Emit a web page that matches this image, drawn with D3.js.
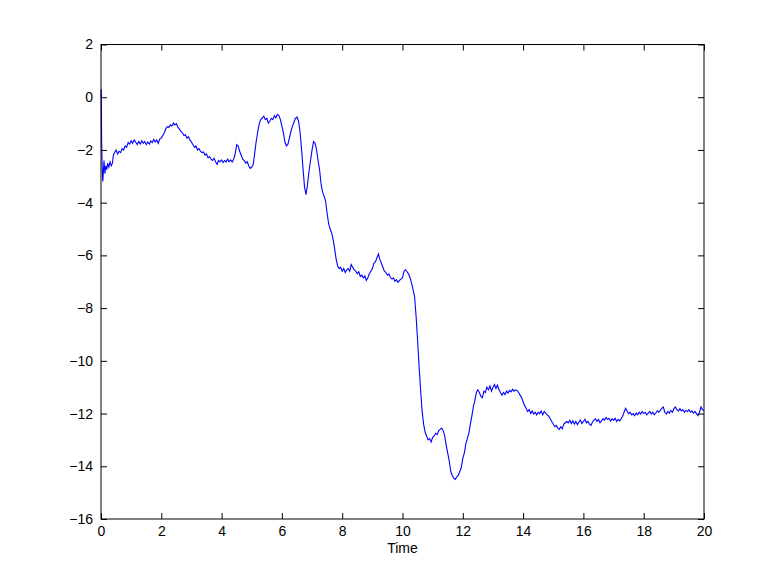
<!DOCTYPE html>
<html>
<head>
<meta charset="utf-8">
<script src="https://cdn.jsdelivr.net/npm/d3@7"></script>
<style>
  body { margin: 0; background: #fff; }
  text { font-family: "Liberation Sans", Arial, sans-serif; font-size: 14px; fill: #000; }
</style>
</head>
<body>
<div id="chart"></div>
<script>
const time = [
  0, 0.01, 0.02, 0.04, 0.06, 0.08, 0.1, 0.13, 0.16, 0.19, 0.22, 0.26, 0.3, 0.34, 0.38, 0.41,
  0.45, 0.5, 0.55, 0.6, 0.65, 0.7, 0.75, 0.8, 0.85, 0.9, 0.95, 1.0, 1.05, 1.1, 1.15, 1.2, 1.25, 1.3, 1.35, 1.4, 1.45, 1.5, 1.55, 1.6, 1.65, 1.7, 1.75, 1.8, 1.85, 1.9, 1.95,
  2.0, 2.05, 2.1, 2.15, 2.2, 2.25, 2.3, 2.35, 2.4, 2.45, 2.5, 2.55, 2.6, 2.65, 2.7, 2.75, 2.8, 2.85, 2.9, 2.95,
  3.0, 3.05, 3.1, 3.15, 3.2, 3.25, 3.3, 3.35, 3.4, 3.45, 3.5, 3.55, 3.6, 3.65, 3.7, 3.75, 3.8, 3.85, 3.9, 3.95,
  4.0, 4.05, 4.1, 4.15, 4.2, 4.25, 4.3, 4.35, 4.4, 4.45, 4.5, 4.55, 4.6, 4.65, 4.7, 4.75, 4.8, 4.85, 4.9, 4.95,
  5.0, 5.05, 5.1, 5.15, 5.2, 5.25, 5.3, 5.35, 5.4, 5.45, 5.5, 5.55, 5.6, 5.65, 5.7, 5.75, 5.8, 5.85, 5.9, 5.95,
  6.0, 6.05, 6.1, 6.15, 6.2, 6.25, 6.3, 6.35, 6.4, 6.45, 6.5, 6.55, 6.6, 6.65, 6.7, 6.75, 6.8, 6.85, 6.9, 6.95,
  7.0, 7.05, 7.1, 7.15, 7.2, 7.25, 7.3, 7.35, 7.4, 7.45, 7.5, 7.55, 7.6, 7.65, 7.7, 7.75, 7.8, 7.85, 7.9, 7.95,
  8.0, 8.05, 8.1, 8.15, 8.2, 8.25, 8.3, 8.35, 8.4, 8.45, 8.5, 8.55, 8.6, 8.65, 8.7, 8.75, 8.8, 8.85, 8.9, 8.95,
  9.0, 9.05, 9.1, 9.15, 9.2, 9.25, 9.3, 9.35, 9.4, 9.45, 9.5, 9.55, 9.6, 9.65, 9.7, 9.75, 9.8, 9.85, 9.9, 9.95,
  10.0, 10.05, 10.1, 10.15, 10.2, 10.25, 10.3, 10.35, 10.4, 10.45, 10.5, 10.55, 10.6, 10.65, 10.7, 10.75, 10.8, 10.85, 10.9, 10.95,
  11.0, 11.05, 11.1, 11.15, 11.2, 11.25, 11.3, 11.35, 11.4, 11.45, 11.5, 11.55, 11.6, 11.65, 11.7, 11.75, 11.8, 11.85, 11.9, 11.95,
  12.0, 12.05, 12.1, 12.15, 12.2, 12.25, 12.3, 12.35, 12.4, 12.45, 12.5, 12.55, 12.6, 12.65, 12.7, 12.75, 12.8, 12.85, 12.9, 12.95,
  13.0, 13.05, 13.1, 13.15, 13.2, 13.25, 13.3, 13.35, 13.4, 13.45, 13.5, 13.55, 13.6, 13.65, 13.7, 13.75, 13.8, 13.85, 13.9, 13.95,
  14.0, 14.05, 14.1, 14.15, 14.2, 14.25, 14.3, 14.35, 14.4, 14.45, 14.5, 14.55, 14.6, 14.65, 14.7, 14.75, 14.8, 14.85, 14.9, 14.95,
  15.0, 15.05, 15.1, 15.15, 15.2, 15.25, 15.3, 15.35, 15.4, 15.45, 15.5, 15.55, 15.6, 15.65, 15.7, 15.75, 15.8, 15.85, 15.9, 15.95,
  16.0, 16.05, 16.1, 16.15, 16.2, 16.25, 16.3, 16.35, 16.4, 16.45, 16.5, 16.55, 16.6, 16.65, 16.7, 16.75, 16.8, 16.85, 16.9, 16.95,
  17.0, 17.05, 17.1, 17.15, 17.2, 17.25, 17.3, 17.35, 17.4, 17.45, 17.5, 17.55, 17.6, 17.65, 17.7, 17.75, 17.8, 17.85, 17.9, 17.95,
  18.0, 18.05, 18.1, 18.15, 18.2, 18.25, 18.3, 18.35, 18.4, 18.45, 18.5, 18.55, 18.6, 18.65, 18.7, 18.75, 18.8, 18.85, 18.9, 18.95,
  19.0, 19.05, 19.1, 19.15, 19.2, 19.25, 19.3, 19.35, 19.4, 19.45, 19.5, 19.55, 19.6, 19.65, 19.7, 19.75, 19.8, 19.85, 19.9, 19.95, 20.0
];
const value = [
  0, 0.3, -1.6, -2.7, -3.2, -2.8, -2.4, -2.9, -2.6, -2.75, -2.5, -2.65, -2.45, -2.6, -2.5, -2.2,
  -2.1, -2.0, -2.15, -2.05, -2.1, -1.95, -2.0, -1.85, -1.9, -1.72, -1.78, -1.65, -1.75, -1.62, -1.7, -1.8, -1.68, -1.78, -1.65, -1.75, -1.68, -1.8, -1.7, -1.78, -1.66, -1.72, -1.6, -1.7, -1.62, -1.75, -1.58,
  -1.55, -1.45, -1.35, -1.2, -1.12, -1.15, -1.05, -1.1, -0.98, -1.05, -1.0, -1.15, -1.2, -1.3, -1.35, -1.45, -1.42, -1.55, -1.5, -1.62,
  -1.7, -1.8, -1.9, -1.85, -2.0, -1.95, -2.05, -2.1, -2.08, -2.2, -2.15, -2.3, -2.25, -2.35, -2.4, -2.32, -2.45, -2.55, -2.4, -2.45,
  -2.38, -2.48, -2.4, -2.45, -2.35, -2.45, -2.38, -2.46, -2.35, -2.15, -1.8, -1.85, -2.05, -2.2, -2.35, -2.4, -2.5, -2.45, -2.6, -2.7,
  -2.65, -2.55, -2.1, -1.65, -1.3, -1.0, -0.85, -0.78, -0.72, -0.85, -0.8, -0.98, -0.9, -0.8, -0.85, -0.7, -0.78, -0.65, -0.7, -0.85,
  -1.1, -1.35, -1.7, -1.85, -1.78, -1.55, -1.3, -1.1, -0.95, -0.8, -0.75, -0.9, -1.3, -1.95, -2.7, -3.4, -3.7, -3.3, -2.8, -2.4,
  -2.0, -1.68, -1.75, -2.0, -2.4, -2.75, -3.3, -3.6, -3.75, -3.95, -4.4, -4.8, -5.0, -5.15, -5.4, -5.75, -6.15, -6.4, -6.5, -6.45,
  -6.6, -6.5, -6.65, -6.55, -6.5, -6.6, -6.35, -6.45, -6.55, -6.6, -6.7, -6.62, -6.8, -6.75, -6.85, -6.78, -6.95, -6.85, -6.7, -6.6,
  -6.5, -6.3, -6.25, -6.1, -5.95, -6.15, -6.3, -6.45, -6.6, -6.65, -6.75, -6.7, -6.85, -6.9, -6.85, -6.98, -6.92, -7.02, -6.95, -6.9,
  -6.85, -6.6, -6.55, -6.62, -6.7, -6.85, -7.05, -7.3, -7.55, -8.3, -9.2, -10.2, -11.1, -11.9, -12.4, -12.7, -12.85, -13.0, -12.95, -13.08,
  -12.9, -12.85, -12.75, -12.8, -12.65, -12.6, -12.55, -12.65, -12.85, -13.2, -13.5, -13.8, -14.2, -14.35, -14.45, -14.5, -14.4, -14.35, -14.2, -14.05,
  -13.7, -13.5, -13.15, -12.95, -12.75, -12.4, -12.1, -11.75, -11.5, -11.2, -11.1, -11.2, -11.35, -11.4, -11.15, -11.2, -11.0, -11.1, -10.95, -11.15,
  -11.0, -10.9, -11.05, -10.92, -11.1, -11.2, -11.3, -11.2, -11.28, -11.15, -11.22, -11.12, -11.18, -11.08, -11.15, -11.1, -11.12, -11.2, -11.3, -11.4,
  -11.55, -11.7, -11.8, -11.92, -11.85, -12.0, -11.9, -12.02, -11.95, -12.05, -11.95, -12.0, -11.9, -12.05, -11.92, -11.98, -12.05, -12.1, -12.2, -12.3,
  -12.4, -12.5, -12.45, -12.55, -12.6, -12.5, -12.58, -12.4, -12.35, -12.3, -12.35, -12.25, -12.38, -12.28, -12.4, -12.3, -12.42, -12.32, -12.25, -12.38,
  -12.3, -12.22, -12.35, -12.3, -12.4, -12.45, -12.32, -12.25, -12.2, -12.3, -12.22, -12.35, -12.28, -12.2, -12.25, -12.15, -12.22, -12.18, -12.28, -12.2,
  -12.25, -12.18, -12.3, -12.22, -12.28, -12.2, -12.1, -11.95, -11.8, -11.9, -12.0, -11.95, -12.05, -12.0, -12.08, -11.98, -12.05, -11.95, -12.02, -11.92,
  -12.0, -11.95, -12.05, -11.98, -11.92, -12.02, -11.95, -12.05, -11.98, -11.9, -11.95, -11.88, -11.8, -11.75, -11.95, -12.02, -11.92, -11.98, -11.88, -11.95,
  -11.82, -11.75, -11.85, -11.9, -11.82, -11.9, -11.85, -11.95, -11.88, -11.92, -11.85, -11.95, -11.9, -11.98, -11.92, -12.0, -12.08, -11.95, -11.75, -11.85, -11.9
];
const xTicks = [0, 2, 4, 6, 8, 10, 12, 14, 16, 18, 20];
const yTicks = [2, 0, -2, -4, -6, -8, -10, -12, -14, -16];
const xLabel = "Time";

const margin = { top: 44.5, right: 73, bottom: 65, left: 101 },
  width = 777 - margin.left - margin.right,
  height = 584 - margin.top - margin.bottom;

const svg = d3
  .select("#chart")
  .append("svg")
  .attr("width", 777)
  .attr("height", 584)
  .append("g")
  .attr("transform", `translate(${margin.left},${margin.top})`);

const x = d3.scaleLinear().domain([0, 20]).range([0, width]);
const y = d3.scaleLinear().domain([-16, 2]).range([height, 0]);

// matlab style minus sign
const fmt = (d) => (d < 0 ? "\u2212" + Math.abs(d) : String(d));

// line first, axes box on top
const line = d3
  .line()
  .x((d, i) => x(time[i]))
  .y((d) => y(d));

svg
  .append("path")
  .datum(value)
  .attr("fill", "none")
  .attr("stroke", "#0000ff")
  .attr("stroke-width", 1.1)
  .attr("d", line);

// inward ticks on every side
const styleAxis = (g) => {
  g.select(".domain").remove();
  g.selectAll(".tick line").attr("stroke", "#000");
  g.selectAll(".tick text")
    .style("font-family", "'Liberation Sans', Arial, sans-serif")
    .style("font-size", "14px")
    .attr("fill", "#000");
};

svg
  .append("g")
  .attr("transform", `translate(0,${height})`)
  .call(d3.axisBottom(x).tickValues(xTicks).tickFormat(fmt).tickSizeInner(-6).tickPadding(7))
  .call(styleAxis);

svg
  .append("g")
  .call(d3.axisLeft(y).tickValues(yTicks).tickFormat(fmt).tickSizeInner(-6).tickPadding(8))
  .call(styleAxis);

svg
  .append("g")
  .call(d3.axisTop(x).tickValues(xTicks).tickFormat("").tickSizeInner(-6))
  .call(styleAxis);

svg
  .append("g")
  .attr("transform", `translate(${width},0)`)
  .call(d3.axisRight(y).tickValues(yTicks).tickFormat("").tickSizeInner(-6))
  .call(styleAxis);

// box
svg
  .append("rect")
  .attr("x", 0)
  .attr("y", 0)
  .attr("width", width)
  .attr("height", height)
  .attr("fill", "none")
  .attr("stroke", "#000")
  .attr("stroke-width", 1);

svg
  .append("text")
  .attr("x", width / 2)
  .attr("y", height + 34)
  .attr("text-anchor", "middle")
  .text(xLabel);
</script>
</body>
</html>
